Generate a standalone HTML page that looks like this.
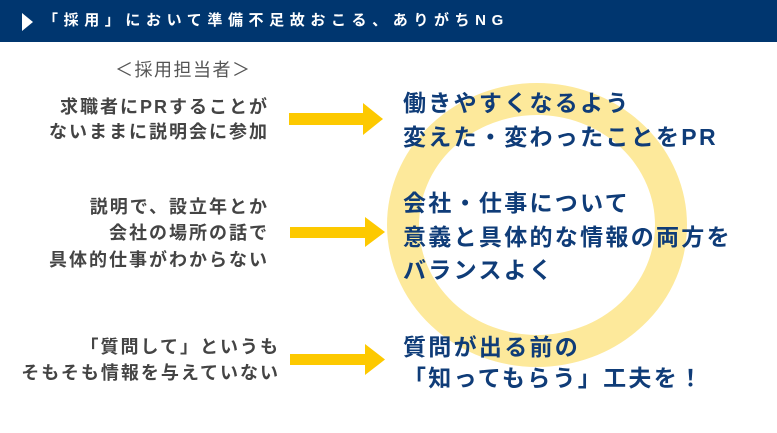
<!DOCTYPE html>
<html lang="ja">
<head>
<meta charset="utf-8">
<style>
  html,body{margin:0;padding:0;background:#fff;}
  body{width:777px;height:433px;position:relative;overflow:hidden;
       font-family:"Liberation Sans","Noto Sans CJK JP",sans-serif;}
  .hdr{position:absolute;left:0;top:0;width:777px;height:42px;background:#00366f;}
  .hdr .tri{position:absolute;left:22px;top:13px;width:0;height:0;
       border-top:9px solid transparent;border-bottom:9px solid transparent;border-left:11px solid #fff;}
  .hdr .t{position:absolute;left:43px;top:11px;line-height:20px;font-size:15px;font-weight:bold;
       color:#fff;letter-spacing:5.6px;white-space:nowrap;}
  .sub{position:absolute;left:115px;top:59px;line-height:22px;font-size:18px;color:#555;
       letter-spacing:1.5px;white-space:nowrap;}
  .l{position:absolute;line-height:24px;height:24px;font-size:18px;font-weight:bold;color:#444;
       letter-spacing:2px;white-space:nowrap;text-align:right;}
  .r{position:absolute;left:403px;line-height:28px;height:28px;font-size:23px;font-weight:bold;
       color:#0f3c78;letter-spacing:2.3px;white-space:nowrap;}
  svg{position:absolute;left:0;top:0;}
</style>
</head>
<body>
<div class="hdr">
  <div class="tri"></div>
  <div class="t">「採用」において準備不足故おこる、ありがちNG</div>
</div>

<svg width="777" height="433" viewBox="0 0 777 433">
  <ellipse cx="537" cy="225" rx="134" ry="126" fill="none" stroke="#fde99b" stroke-width="32"/>
  <polygon points="289,113 363,113 363,103 383,119 363,135 363,125 289,125" fill="#fdc900"/>
  <polygon points="290,227 365,227 365,217 385,232 365,247 365,238 290,238" fill="#fdc900"/>
  <polygon points="290,354 365,354 365,344 385,359.5 365,375 365,365 290,365" fill="#fdc900"/>
</svg>

<div class="sub">＜採用担当者＞</div>

<div class="l" style="right:508px;top:95px;">求職者にPRすることが</div>
<div class="l" style="right:508px;top:120px;">ないままに説明会に参加</div>

<div class="l" style="right:508px;top:195px;">説明で、設立年とか</div>
<div class="l" style="right:508px;top:221px;">会社の場所の話で</div>
<div class="l" style="right:508px;top:248px;">具体的仕事がわからない</div>

<div class="l" style="right:497px;top:335px;">「質問して」というも</div>
<div class="l" style="right:497px;top:361px;">そもそも情報を与えていない</div>

<div class="r" style="top:89px;">働きやすくなるよう</div>
<div class="r" style="top:123px;">変えた・変わったことをPR</div>

<div class="r" style="top:189px;">会社・仕事について</div>
<div class="r" style="top:223px;">意義と具体的な情報の両方を</div>
<div class="r" style="top:256px;">バランスよく</div>

<div class="r" style="top:333px;">質問が出る前の</div>
<div class="r" style="top:364px;">「知ってもらう」工夫を！</div>
</body>
</html>
